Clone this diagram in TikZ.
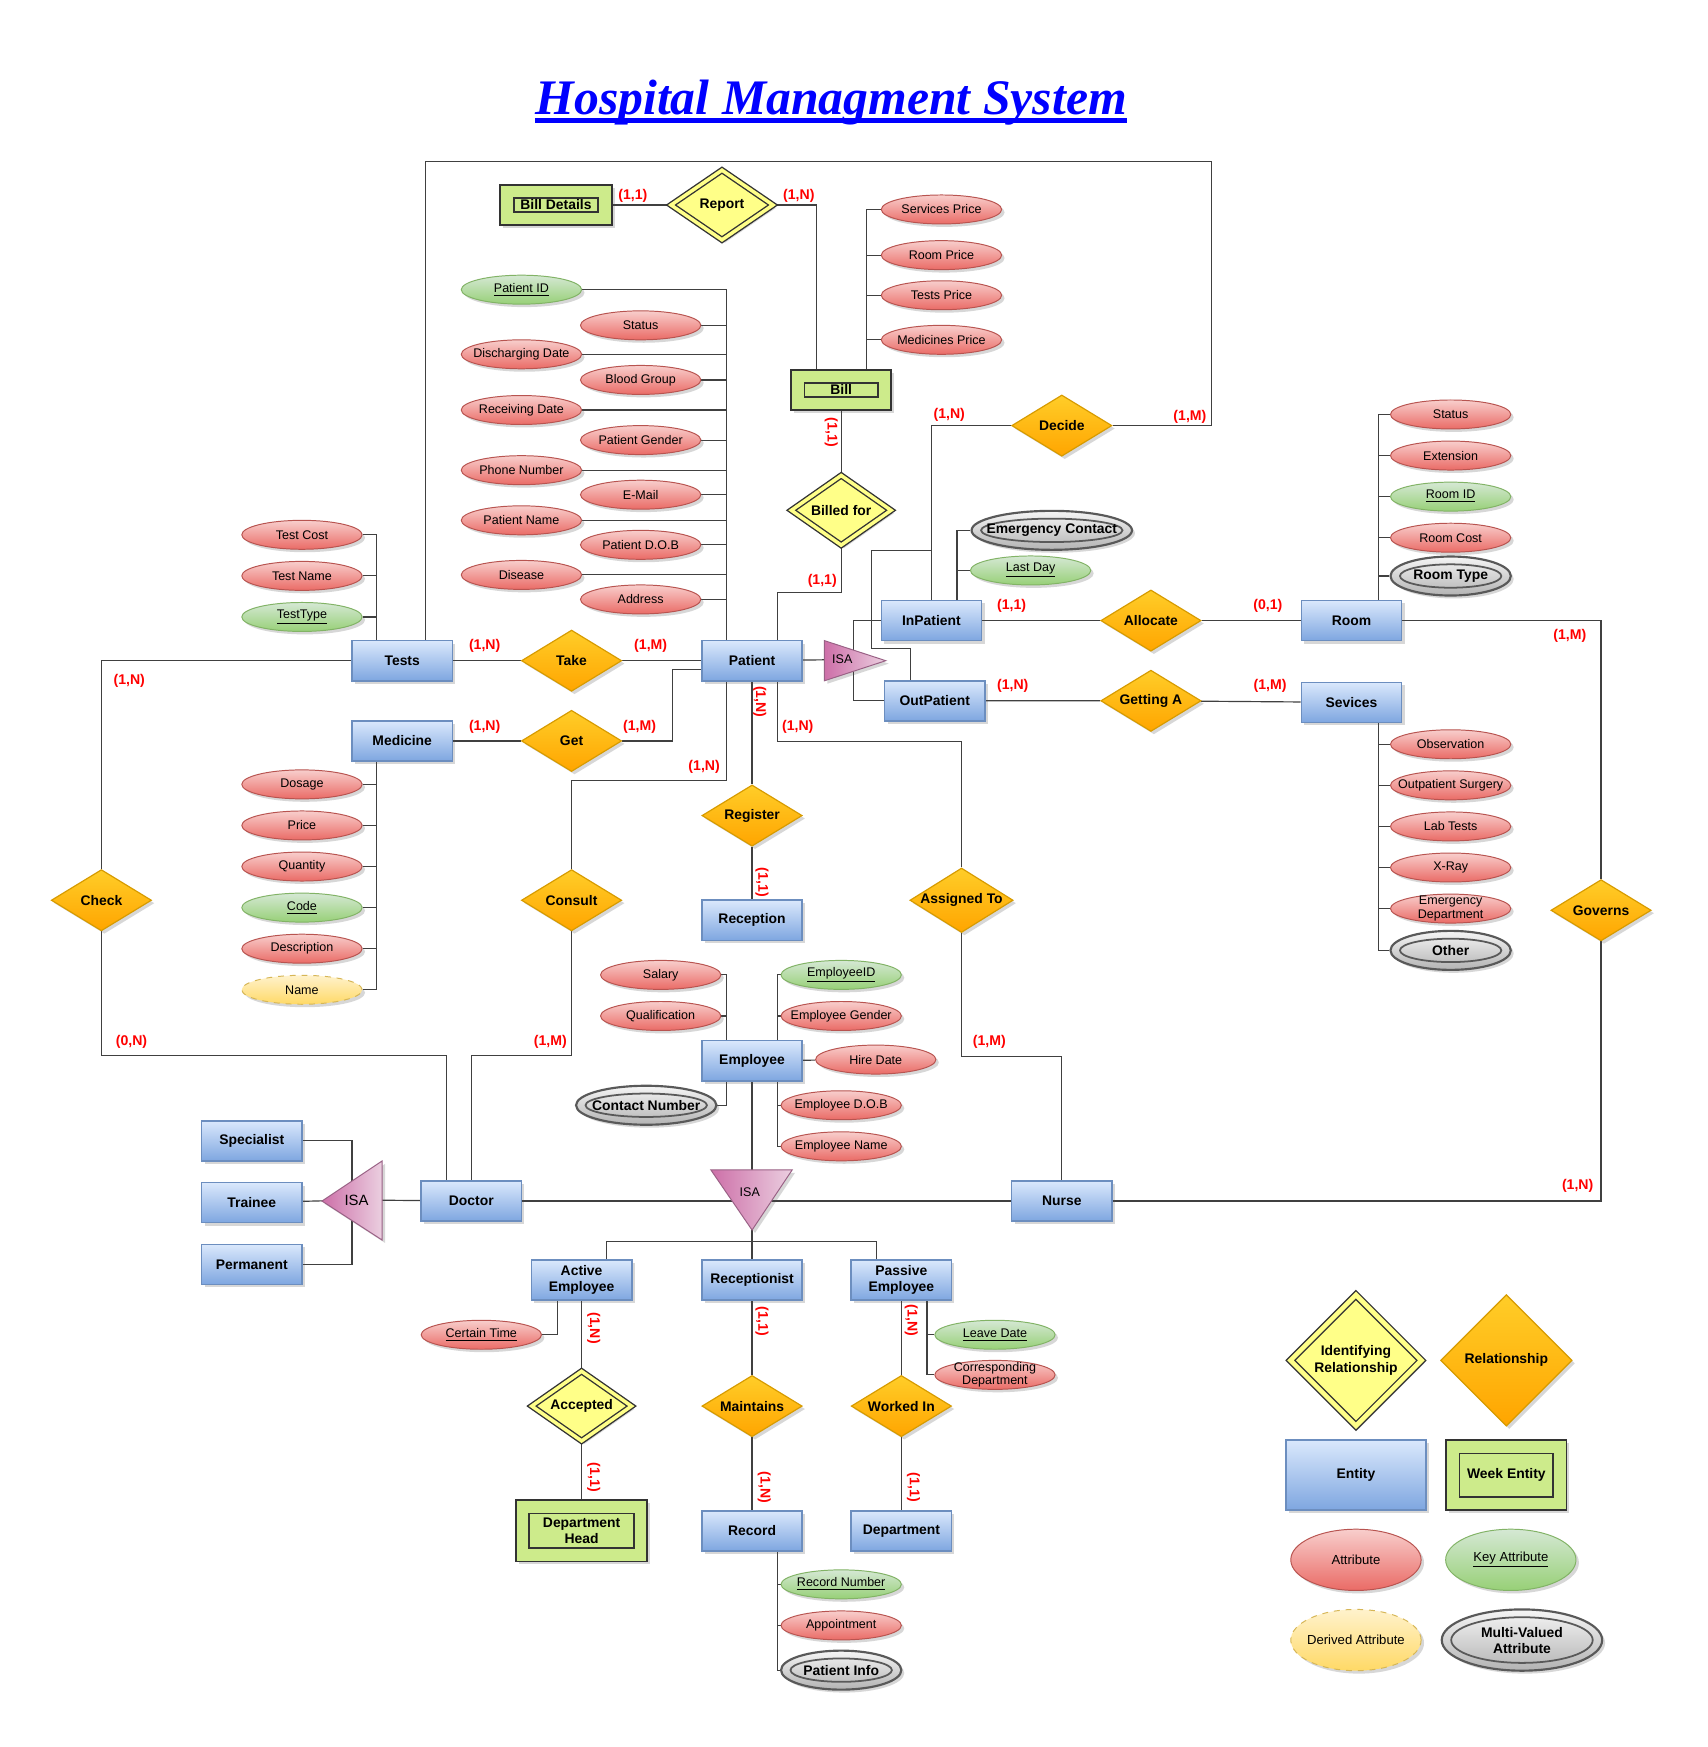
\documentclass[tikz,border=0pt]{standalone}
\usepackage{fontspec}
\setmainfont{Liberation Sans}
\newfontfamily\titlefont{Liberation Serif}
\usetikzlibrary{positioning,shapes.geometric,shadows,backgrounds,calc}

\definecolor{entTop}{HTML}{DAE8FC}
\definecolor{entBot}{HTML}{7EA6E0}
\definecolor{entLine}{HTML}{6C8EBF}
\definecolor{weakFill}{HTML}{CDEB8B}
\definecolor{relTop}{HTML}{FFCD28}
\definecolor{relBot}{HTML}{FFA500}
\definecolor{relLine}{HTML}{D79B00}
\definecolor{idFill}{HTML}{FFFF88}
\definecolor{attTop}{HTML}{F8CECC}
\definecolor{attBot}{HTML}{EA6B66}
\definecolor{attLine}{HTML}{B85450}
\definecolor{keyTop}{HTML}{D5E8D4}
\definecolor{keyBot}{HTML}{97D077}
\definecolor{keyLine}{HTML}{82B366}
\definecolor{derTop}{HTML}{FFF2CC}
\definecolor{derBot}{HTML}{FFD966}
\definecolor{derLine}{HTML}{D6B656}
\definecolor{mvTop}{HTML}{F5F5F5}
\definecolor{mvBot}{HTML}{B3B3B3}
\definecolor{isaDark}{HTML}{CD6FA8}
\definecolor{isaLight}{HTML}{EBCFE0}
\definecolor{isaLine}{HTML}{996185}
\definecolor{titleBlue}{HTML}{0000FF}
\definecolor{cardRed}{HTML}{FF0000}

\begin{document}
\begin{tikzpicture}[x=0.02cm, y=-0.02cm, node distance=0.2cm,
  shdw/.style={drop shadow={shadow xshift=1.5pt, shadow yshift=-1.5pt, opacity=0.22, fill=black!70}},
  ent/.style={draw=entLine, line width=0.8pt, top color=entTop, bottom color=entBot,
              minimum width=1.8cm, minimum height=0.72cm, inner sep=1pt, align=center,
              font=\bfseries\fontsize{7.1}{8.2}\selectfont, shdw},
  weak/.style={draw=black!80, line width=1pt, fill=weakFill, minimum width=2cm,
               minimum height=0.72cm, inner sep=1pt, align=center,
               font=\bfseries\fontsize{7.1}{8.2}\selectfont, shdw,
               path picture={\draw[black!80, line width=0.9pt]
                 ([shift={(0.24cm,0.24cm)}]path picture bounding box.south west) rectangle
                 ([shift={(-0.24cm,-0.24cm)}]path picture bounding box.north east);}},
  rel/.style={diamond, aspect=1.6, draw=relLine, line width=0.6pt, top color=relTop,
              bottom color=relBot, minimum width=1.8cm, minimum height=1.1cm, inner sep=0pt,
              align=center, font=\bfseries\fontsize{7.1}{8.2}\selectfont, shdw},
  ident/.style={diamond, aspect=1.4, draw=black!80, line width=0.7pt, fill=idFill,
                double=idFill, double distance=1.8pt, minimum width=1.8cm, minimum height=1.26cm,
                inner sep=0pt, align=center, font=\bfseries\fontsize{7.1}{8.2}\selectfont, shdw},
  attr/.style={ellipse, draw=attLine, line width=0.5pt, top color=attTop, bottom color=attBot,
               minimum width=2.16cm, minimum height=0.52cm, inner sep=0pt, shdw},
  key/.style={attr, draw=keyLine, top color=keyTop, bottom color=keyBot},
  derived/.style={attr, draw=derLine, top color=derTop, bottom color=derBot, dashed},
  multi/.style={attr, draw=black!65, line width=1.1pt, top color=mvTop, bottom color=mvBot,
                minimum height=0.7cm,
                path picture={\draw[black!65, line width=0.9pt]
                  let \p1=($(path picture bounding box.north east)-(path picture bounding box.center)$)
                  in (path picture bounding box.center) ellipse [x radius=\x1-0.17cm, y radius=\y1-0.14cm];}},
  atx/.style={font=\fontsize{6.4}{7}\selectfont, align=center, inner sep=0pt},
  mtx/.style={font=\bfseries\fontsize{7.1}{8.2}\selectfont, align=center, inner sep=0pt},
  card/.style={text=cardRed, font=\bfseries\fontsize{7.2}{8}\selectfont, inner sep=0pt},
  cardv/.style={card, rotate=-90},
  isa/.style={draw=isaLine, line width=0.5pt, left color=isaDark, right color=isaLight, shdw},
  isatx/.style={font=\fontsize{6.4}{7}\selectfont, inner sep=0pt},
  ttl/.style={font=\titlefont\bfseries\itshape\fontsize{25.4}{30}\selectfont, text=titleBlue, inner sep=0pt},
  link/.style={draw=black!75, line width=0.6pt}]
\useasboundingbox (0,0) rectangle (1533,1568);

% title
\node[ttl, anchor=base] (title) at (746,103) {Hospital Managment System};
\draw[titleBlue, line width=2.3pt] ([yshift=-0.1cm]title.base west) -- ([yshift=-0.1cm]title.base east);

% entities
\node[ent] (tests) at (361,593) {Tests};
\node[ent] (medicine) at (361,665) {Medicine};
\node[ent] (patient) at (675,593) {Patient};
\node[ent] (inpat) at (836,557) {InPatient};
\node[ent] (outpat) at (839,629) {OutPatient};
\node[ent] (room) at (1213,557) {Room};
\node[ent, below=0.72cm of room] (sevices) {Sevices};
\node[ent] (reception) at (675,826) {Reception};
\node[ent] (employee) at (675,952) {Employee};
\node[ent] (specialist) at (226,1024) {Specialist};
\node[ent, below=0.36cm of specialist] (trainee) {Trainee};
\node[ent, below=0.36cm of trainee] (permanent) {Permanent};
\node[ent] (doctor) at (423,1078) {Doctor};
\node[ent] (nurse) at (953,1078) {Nurse};
\node[ent] (actEmp) at (522,1149) {Active\\Employee};
\node[ent] (recept) at (675,1149) {Receptionist};
\node[ent] (pasEmp) at (809,1149) {Passive\\Employee};
\node[ent] (record) at (675,1374) {Record};
\node[ent] (dept) at (809,1374) {Department};

% weak entities
\node[weak] (billDet) at (499,184) {Bill Details};
\node[weak, minimum width=1.8cm] (bill) at (755,350) {Bill};
\node[weak, minimum width=2.36cm, minimum height=1.1cm] (deptHead) at (522,1374) {Department\\Head};

% relationships
\node[ident, minimum width=1.84cm] (report) at (648,184) {Report};
\node[ident] (billedFor) at (755,458) {Billed for};
\node[ident] (accepted) at (522,1262) {Accepted};
\node[rel] (decide) at (953,382) {Decide};
\node[rel] (allocate) at (1033,557) {Allocate};
\node[rel] (gettingA) at (1033,629) {Getting A};
\node[rel] (take) at (513,593) {Take};
\node[rel] (get) at (513,665) {Get};
\node[rel] (register) at (675,732) {Register};
\node[rel] (check) at (91,808) {Check};
\node[rel] (consult) at (513,808) {Consult};
\node[rel] (assigned) at (863,808) {Assigned To};
\node[rel] (governs) at (1437,817) {Governs};
\node[rel] (maintains) at (675,1262) {Maintains};
\node[rel] (workedIn) at (809,1262) {Worked In};

% isa triangles
\path[isa] (740,575) -- (795,593) -- (740,611) -- cycle;
\node[isatx] (isaP) at (756,592) {ISA};
\coordinate (isaPj) at (766,593);
\path[isa] (638,1050) -- (711,1050) -- (675,1104) -- cycle;
\node[isatx] (isaE) at (673,1070) {ISA};
\coordinate (isaEtip) at (675,1104);
\coordinate (subBus) at (675,1114);
\path[isa] (343,1042) -- (343,1113) -- (289,1078) -- cycle;
\node[isatx, font=\fontsize{7.6}{8}\selectfont] (isaD) at (320,1077) {ISA};
\coordinate (isaDj) at (316,1078);

% patient attributes
\node[key, label={[atx]center:\underline{Patient ID}}] (pID) at (468,260) {};
\node[attr, label={[atx]center:Status}] (pStatus) at (575,292) {};
\node[attr, label={[atx]center:Discharging Date}] (pDisch) at (468,318) {};
\node[attr, label={[atx]center:Blood Group}] (pBlood) at (575,341) {};
\node[attr, label={[atx]center:Receiving Date}] (pRecv) at (468,368) {};
\node[attr, label={[atx]center:Patient Gender}] (pGender) at (575,395) {};
\node[attr, label={[atx]center:Phone Number}] (pPhone) at (468,422) {};
\node[attr, label={[atx]center:E-Mail}] (pEmail) at (575,444) {};
\node[attr, label={[atx]center:Patient Name}] (pName) at (468,467) {};
\node[attr, label={[atx]center:Patient D.O.B}] (pDOB) at (575,489) {};
\node[attr, label={[atx]center:Disease}] (pDisease) at (468,516) {};
\node[attr, label={[atx]center:Address}] (pAddr) at (575,538) {};

% bill attributes
\node[attr, label={[atx]center:Services Price}] (sPrice) at (845,188) {};
\node[attr, label={[atx]center:Room Price}] (rPrice) at (845,229) {};
\node[attr, label={[atx]center:Tests Price}] (tPrice) at (845,265) {};
\node[attr, label={[atx]center:Medicines Price}] (mPrice) at (845,305) {};

% tests and medicine attributes
\node[attr, label={[atx]center:Test Cost}] (tCost) at (271,480) {};
\node[attr, below=of tCost, label={[atx]center:Test Name}] (tName) {};
\node[key, below=of tName, label={[atx]center:\underline{TestType}}] (tType) {};
\node[attr, label={[atx]center:Dosage}] (mDosage) at (271,704) {};
\node[attr, below=of mDosage, label={[atx]center:Price}] (mPrice2) {};
\node[attr, below=of mPrice2, label={[atx]center:Quantity}] (mQty) {};
\node[key, below=of mQty, label={[atx]center:\underline{Code}}] (mCode) {};
\node[attr, below=of mCode, label={[atx]center:Description}] (mDesc) {};
\node[derived, below=of mDesc, label={[atx]center:Name}] (mName) {};

% room and services attributes
\node[attr, label={[atx]center:Status}] (rStatus) at (1302,372) {};
\node[attr, below=of rStatus, label={[atx]center:Extension}] (rExt) {};
\node[key, below=of rExt, label={[atx]center:\underline{Room ID}}] (rID) {};
\node[attr, below=of rID, label={[atx]center:Room Cost}] (rCost) {};
\node[multi, label={[mtx]center:Room Type}] (rType) at (1302,517) {};
\node[attr, label={[atx]center:Observation}] (sObs) at (1302,668) {};
\node[attr, below=of sObs, label={[atx]center:Outpatient Surgery}] (sSurg) {};
\node[attr, below=of sSurg, label={[atx]center:Lab Tests}] (sLab) {};
\node[attr, below=of sLab, label={[atx]center:X-Ray}] (sXray) {};
\node[attr, below=of sXray, label={[atx]center:Emergency\\Department}] (sEmerg) {};
\node[multi, label={[mtx]center:Other}] (sOther) at (1302,853) {};

% inpatient attributes
\node[multi, minimum width=2.88cm, label={[mtx]center:Emergency Contact}] (eContact) at (944,476) {};
\node[key, label={[atx]center:\underline{Last Day}}] (lastDay) at (925,512) {};

% employee attributes
\node[attr, label={[atx]center:Salary}] (salary) at (593,875) {};
\node[attr, below=of salary, label={[atx]center:Qualification}] (qualif) {};
\node[multi, minimum width=2.52cm, label={[mtx]center:Contact Number}] (contact) at (580,992) {};
\node[key, label={[atx]center:\underline{EmployeeID}}] (empID) at (755,875) {};
\node[attr, below=of empID, label={[atx]center:Employee Gender}] (empGender) {};
\node[attr, label={[atx]center:Hire Date}] (hireDate) at (786,951) {};
\node[attr, label={[atx]center:Employee D.O.B}] (empDOB) at (755,992) {};
\node[attr, below=of empDOB, label={[atx]center:Employee Name}] (empName) {};

% subtype attributes
\node[attr, label={[atx]center:\underline{Certain Time}}] (certTime) at (432,1198) {};
\node[key, label={[atx]center:\underline{Leave Date}}] (leaveDate) at (893,1198) {};
\node[attr, label={[atx]center:Corresponding\\Department}] (corrDept) at (893,1234) {};
\node[key, label={[atx]center:\underline{Record Number}}] (recNum) at (755,1422) {};
\node[attr, below=of recNum, label={[atx]center:Appointment}] (appt) {};
\node[multi, label={[mtx]center:Patient Info}] (patInfo) at (755,1499) {};

% cardinalities
\node[card] (c1) at (568,176) {(1,1)};
\node[card] (c2) at (717,176) {(1,N)};
\node[cardv] (c3) at (746,388) {(1,1)};
\node[card] (c4) at (738,521) {(1,1)};
\node[card] (c5) at (852,372) {(1,N)};
\node[card] (c6) at (1068,374) {(1,M)};
\node[card] (c7) at (908,544) {(1,1)};
\node[card] (c8) at (1138,544) {(0,1)};
\node[card] (c9) at (1409,571) {(1,M)};
\node[card] (c10) at (909,616) {(1,N)};
\node[card] (c11) at (1140,616) {(1,M)};
\node[card] (c12) at (435,580) {(1,N)};
\node[card] (c13) at (584,580) {(1,M)};
\node[card] (c14) at (435,652) {(1,N)};
\node[card] (c15) at (574,652) {(1,M)};
\node[card] (c16) at (116,611) {(1,N)};
\node[card] (c17) at (118,935) {(0,N)};
\node[cardv] (c18) at (682,630) {(1,N)};
\node[card] (c19) at (716,652) {(1,N)};
\node[card] (c20) at (632,688) {(1,N)};
\node[cardv] (c21) at (684,792) {(1,1)};
\node[card] (c22) at (494,935) {(1,M)};
\node[card] (c23) at (888,935) {(1,M)};
\node[card] (c24) at (1416,1064) {(1,N)};
\node[cardv] (c25) at (533,1192) {(1,N)};
\node[cardv] (c26) at (533,1326) {(1,1)};
\node[cardv] (c27) at (684,1186) {(1,1)};
\node[cardv] (c28) at (686,1335) {(1,N)};
\node[cardv] (c29) at (818,1185) {(1,N)};
\node[cardv] (c30) at (820,1335) {(1,1)};

% legend
\node[ident, aspect=1, minimum width=2.36cm, minimum height=2.36cm, double distance=2.4pt] (lgIdent) at (1217,1221) {Identifying\\Relationship};
\node[rel, aspect=1, minimum width=2.36cm, minimum height=2.36cm] (lgRel) at (1352,1221) {Relationship};
\node[ent, minimum width=2.52cm, minimum height=1.26cm] (lgEnt) at (1217,1324) {Entity};
\node[weak, minimum width=2.16cm, minimum height=1.26cm] (lgWeak) at (1352,1324) {Week Entity};
\node[attr, minimum width=2.34cm, minimum height=1.1cm, label={[atx, font=\fontsize{6.7}{7}\selectfont]center:Attribute}] (lgAttr) at (1217,1400) {};
\node[key, minimum width=2.34cm, minimum height=1.1cm, label={[atx, font=\fontsize{6.7}{7}\selectfont]center:\underline{Key Attribute}}] (lgKey) at (1356,1400) {};
\node[derived, minimum width=2.34cm, minimum height=1.1cm, label={[atx, font=\fontsize{6.7}{7}\selectfont]center:Derived Attribute}] (lgDer) at (1217,1472) {};
\node[multi, minimum width=2.88cm, minimum height=1.1cm, label={[mtx]center:Multi-Valued\\Attribute}] (lgMulti) at (1366,1472) {};

% connectors
\begin{scope}[on background layer]
\fill[white] (0,0) rectangle (1533,1568);
\coordinate (frameNE) at (1087,145);
\draw[link] ([xshift=0.42cm]tests.north) |- (frameNE) |- (decide.east);
\draw[link] (billDet) -- (report);
\draw[link] (report.east) -| ([xshift=-0.44cm]bill.north);
\draw[link] (bill) -- (billedFor);
\draw[link] (billedFor.south) -- ++(0,42) -| ([xshift=0.46cm]patient.north);
\foreach \a in {sPrice,rPrice,tPrice,mPrice}
  \draw[link] ([xshift=0.46cm]bill.north) |- (\a.west);
\foreach \a in {pID,pStatus,pDisch,pBlood,pRecv,pGender,pPhone,pEmail,pName,pDOB,pDisease,pAddr}
  \draw[link] ([xshift=-0.46cm]patient.north) |- (\a.east);
\foreach \a in {tCost,tName,tType}
  \draw[link] ([xshift=-0.46cm]tests.north) |- (\a.east);
\foreach \a in {mDosage,mPrice2,mQty,mCode,mDesc,mName}
  \draw[link] ([xshift=-0.46cm]medicine.south) |- (\a.east);
\draw[link] (tests) -- (take) -- (patient);
\draw[link] (medicine) -- (get);
\draw[link] (get.east) -- ++(45,0) |- ([yshift=-0.16cm]patient.west);
\draw[link] (tests.west) -| (check.north);
\draw[link] (check.south) -- ++(0,111) -| ([xshift=-0.44cm]doctor.north);
\draw[link] (consult.south) -- ++(0,111) -| (doctor.north);
\draw[link] ([xshift=-0.46cm]patient.south) -- ++(0,89) -| (consult.north);
\draw[link] (patient) -- (register) -- (reception);
\draw[link] ([xshift=0.46cm]patient.south) -- ++(0,54) -| (assigned.north);
\draw[link] (assigned.south) -- ++(0,111) -| (nurse.north);
\draw[link] (patient) -- (isaP);
\draw[link] (inpat.west) -| (isaPj) |- (outpat.west);
\draw[link] (inpat.north) |- (decide.west);
\coordinate (decJoin) at (836,494);
\draw[link] ([xshift=-0.44cm]outpat.north) -- ++(0,-28) -- ++(-35,0) |- (decJoin);
\foreach \a in {eContact,lastDay}
  \draw[link] ([xshift=0.46cm]inpat.north) |- (\a.west);
\draw[link] (inpat) -- (allocate) -- (room);
\draw[link] (outpat) -- (gettingA) -- (sevices);
\foreach \a in {rStatus,rExt,rID,rCost,rType}
  \draw[link] ([xshift=0.48cm]room.north) |- (\a.west);
\foreach \a in {sObs,sSurg,sLab,sXray,sEmerg,sOther}
  \draw[link] ([xshift=0.48cm]sevices.south) |- (\a.west);
\draw[link] (room.east) -| (governs.north);
\draw[link] (governs.south) |- (nurse.east);
\foreach \a in {salary,qualif}
  \draw[link] ([xshift=-0.46cm]employee.north) |- (\a.east);
\draw[link] ([xshift=-0.46cm]employee.south) |- (contact.east);
\foreach \a in {empID,empGender}
  \draw[link] ([xshift=0.46cm]employee.north) |- (\a.west);
\draw[link] (employee) -- (hireDate);
\foreach \a in {empDOB,empName}
  \draw[link] ([xshift=0.46cm]employee.south) |- (\a.west);
\draw[link] (employee) -- (isaEtip);
\draw[link] (doctor) -- (nurse);
\draw[link] (isaEtip) -- (recept.north);
\draw[link] ([xshift=0.44cm]actEmp.north) |- (subBus) -| ([xshift=-0.44cm]pasEmp.north);
\draw[link] (actEmp) -- (accepted) -- (deptHead);
\draw[link] ([xshift=-0.44cm]actEmp.south) |- (certTime.east);
\draw[link] (recept) -- (maintains) -- (record);
\draw[link] (pasEmp) -- (workedIn) -- (dept);
\foreach \a in {leaveDate,corrDept}
  \draw[link] ([xshift=0.46cm]pasEmp.south) |- (\a.west);
\foreach \a in {recNum,appt,patInfo}
  \draw[link] ([xshift=0.46cm]record.south) |- (\a.west);
\draw[link] (doctor) -- (isaD);
\draw[link] (trainee) -- (isaD);
\draw[link] (specialist.east) -| (isaDj) |- (permanent.east);
\end{scope}
\end{tikzpicture}
\end{document}
